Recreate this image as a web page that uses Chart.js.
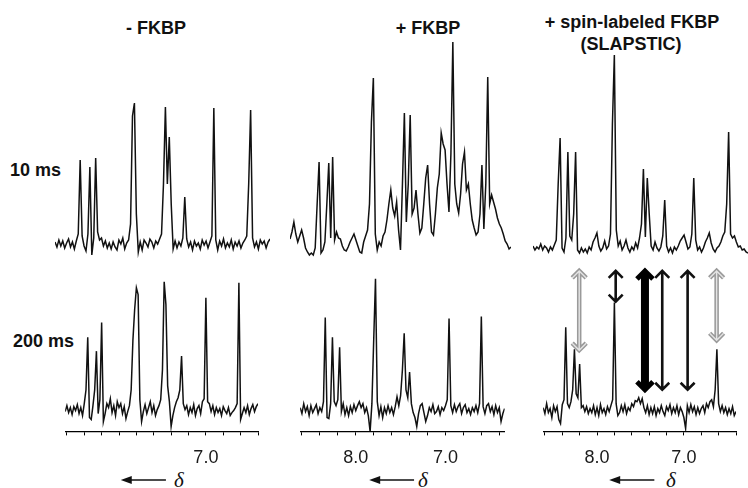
<!DOCTYPE html>
<html>
<head>
<meta charset="utf-8">
<script src="https://cdn.jsdelivr.net/npm/chart.js@4.4.1/dist/chart.umd.min.js"></script>
<style>
  body { margin: 0; background: #fff; width: 748px; height: 488px; overflow: hidden; position: relative; font-family: "Liberation Sans", Arial, sans-serif; }
  canvas { position: absolute; }
  .lbl { position: absolute; font-weight: bold; font-size: 18px; line-height: 20px; color: #111; white-space: nowrap; }
  .ctr { width: 240px; text-align: center; }
  .delta { position: absolute; font-family: "Liberation Serif", "DejaVu Serif", serif; font-style: italic; font-size: 21px; line-height: 22px; color: #111; }
</style>
</head>
<body>
<div class="lbl ctr" style="left:36px;top:18px">- FKBP</div>
<div class="lbl ctr" style="left:308px;top:18px">+ FKBP</div>
<div class="lbl ctr" style="left:512px;top:12px">+ spin-labeled FKBP</div>
<div class="lbl ctr" style="left:511px;top:34px">(SLAPSTIC)</div>
<div class="lbl" style="left:10px;top:160px">10 ms</div>
<div class="lbl" style="left:13px;top:331px">200 ms</div>
<div class="delta" style="left:174px;top:469px">δ</div>
<div class="delta" style="left:418px;top:469px">δ</div>
<div class="delta" style="left:666px;top:469px">δ</div>

<canvas id="t1" width="215" height="232" style="left:55px;top:30px"></canvas>
<canvas id="t2" width="221" height="232" style="left:290px;top:30px"></canvas>
<canvas id="t3" width="215" height="232" style="left:533px;top:30px"></canvas>
<canvas id="b1" width="215" height="226" style="left:55px;top:262px"></canvas>
<canvas id="b2" width="221" height="226" style="left:290px;top:262px"></canvas>
<canvas id="b3" width="215" height="226" style="left:533px;top:262px"></canvas>

<script>
// chemical shift sampling, 8.62 ppm down to 6.34 ppm in 0.02 steps
const ppm = Array.from({ length: 115 }, (_, i) => +(8.62 - 0.02 * i).toFixed(2));

// axis ticks (ppm) and which of them carry a label
const tickPpm = [8.6, 8.4, 8.2, 8.0, 7.8, 7.6, 7.4, 7.2, 7.0, 6.8, 6.6, 6.4];
const labeledFree = [7.0];
const labeledOther = [8.0, 7.0];

// intensities (arbitrary units)
const free10 = [2,-3,4,-2,3,-4,1,5,-3,2,-5,3,10,84,8,-2,-7,10,77,-11,6,86,12,4,6,-2,3,-4,1,-5,
  2,-3,-6,4,0,6,-5,1,4,20,128,141,30,-8,2,-6,4,1,-3,5,2,-4,3,0,5,10,60,137,60,107,
  40,-5,3,-4,2,-2,6,47,5,-3,2,-6,3,-2,1,-5,4,-1,3,-4,2,8,136,4,-6,3,-2,5,-4,1,
  -3,4,-5,2,-2,3,-4,1,4,8,60,134,6,-3,2,-5,4,0,3,-4,2,5];
const fkbp10 = [5,12,22,10,2,8,14,6,-4,-8,-11,-9,-11,-4,40,82,-9,-6,2,40,81,6,87,4,12,6,5,-2,-6,-7,
  -3,2,6,10,4,-2,-8,-9,2,8,14,40,122,166,10,-6,2,-2,8,12,24,40,54,36,28,42,14,-6,60,131,
  22,60,129,30,36,54,30,11,16,40,66,79,40,12,9,30,56,70,111,100,94,60,32,90,202,60,40,31,50,80,
  92,54,60,40,24,16,9,12,30,79,15,60,167,40,49,42,35,26,20,16,10,3,0,-5,-3];
const spin10 = [-2,-6,-3,-5,0,-6,-2,-4,-8,-3,-6,-1,4,60,106,-4,-8,6,92,8,4,30,92,-6,-9,-4,-8,-5,-9,-3,
  -6,2,6,11,-2,-7,-4,3,-5,-2,10,120,189,14,-2,3,-6,-2,4,-4,-8,-3,-6,1,-4,6,20,75,7,66,
  30,-2,-6,2,-4,-7,-3,8,44,-2,-8,-4,-9,-3,-6,-2,3,6,9,2,-5,-3,10,66,4,-6,-3,-8,-4,2,
  6,11,1,-5,-8,-4,-2,2,8,12,40,112,10,6,8,2,-3,-2,-6,-5,-8,-9];
const free200 = [-2,4,-3,2,-5,3,-1,5,-4,2,-6,6,20,73,-8,-10,4,20,59,-4,10,88,-12,-4,6,2,11,-3,4,-6,
  8,2,6,-4,3,-9,-2,4,20,70,101,123,116,10,-12,-2,5,-4,2,8,-3,4,-6,0,4,10,40,129,106,24,
  8,-17,-6,2,8,12,20,54,6,0,4,-5,2,-3,5,-6,1,4,-4,8,11,113,8,6,-2,4,-5,2,-3,1,
  -6,3,-1,-4,2,-6,-3,-1,2,6,128,-10,-4,2,-3,4,-5,1,5,-2,3,6];
const fkbp200 = [2,-4,6,-2,3,-6,4,-3,1,5,-4,2,-2,8,93,-8,-9,6,73,8,4,10,63,-2,6,-5,2,-6,3,-3,
  5,-1,4,8,2,6,-3,2,-6,-22,6,70,132,8,-6,3,-8,2,-4,4,-3,2,-5,3,13,4,14,40,77,20,
  12,38,6,-3,-8,-17,-4,4,6,-3,-12,-6,2,-2,5,-4,-2,3,-5,2,-1,4,10,92,4,-3,5,-2,3,6,
  -4,2,5,-3,1,-5,2,-2,4,-3,6,94,3,-4,4,6,-2,3,-5,4,-3,2,-12,-4,1];
const spin200 = [2,-4,6,-3,1,-8,4,-2,3,-10,-14,5,10,83,6,2,8,20,61,16,12,46,2,4,-2,3,-4,1,-3,4,
  -5,2,-6,5,-3,1,-5,3,-2,4,10,108,6,-6,-3,4,-2,5,-4,2,-1,6,3,9,8,12,6,11,2,-3,
  4,-5,2,-4,3,-6,1,-3,4,-2,-6,3,-1,5,-4,2,-3,4,-5,2,-2,-8,-19,4,-3,5,-2,3,-5,2,
  -4,1,4,-3,6,2,8,10,3,20,61,6,-2,4,-3,2,-5,1,-4,3,-6,-2];

// double-headed arrows in the spin-labeled 200 ms panel
const arrowPpm = [8.205, 7.785, 7.448, 7.249, 6.957, 6.623];
const arrowTop = [141, 141, 141, 141, 141, 141];
const arrowBottom = [59, 108, 19, 19, 19, 69];
const arrowKind = ['gray', 'black', 'thick', 'black', 'black', 'gray'];

// "<- delta" direction arrows under each axis (ppm)
const dirFrom = [7.98, 7.85, 7.86];
const dirTo = [7.46, 7.35, 7.34];

function pts(values) {
  return values.map((v, i) => ({ x: ppm[i], y: v }));
}

const arrowPlugin = {
  id: 'pairArrows',
  afterDatasetsDraw(chart) {
    if (!chart.options.plugins.pairArrows.show) return;
    const { ctx, scales: { x, y } } = chart;
    ctx.save();
    ctx.lineCap = 'butt';
    ctx.lineJoin = 'miter';
    arrowPpm.forEach((p, i) => {
      const px = x.getPixelForValue(p);
      const yt = y.getPixelForValue(arrowTop[i]);
      const yb = y.getPixelForValue(arrowBottom[i]);
      const kind = arrowKind[i];
      const hw = kind === 'thick' ? 8 : 7;
      const hh = kind === 'thick' ? 9 : 8;
      const path = () => {
        ctx.beginPath();
        ctx.moveTo(px, yt + 1);
        ctx.lineTo(px, yb - 1);
        ctx.moveTo(px - hw, yt + hh);
        ctx.lineTo(px, yt + 1);
        ctx.lineTo(px + hw, yt + hh);
        ctx.moveTo(px - hw, yb - hh);
        ctx.lineTo(px, yb - 1);
        ctx.lineTo(px + hw, yb - hh);
      };
      if (kind === 'gray') {
        ctx.strokeStyle = '#9a9a9a';
        ctx.lineWidth = 4.5;
        path(); ctx.stroke();
        ctx.strokeStyle = '#e4e4e4';
        ctx.lineWidth = 1.4;
        path(); ctx.stroke();
      } else if (kind === 'thick') {
        ctx.strokeStyle = '#000';
        ctx.lineWidth = 5;
        path(); ctx.stroke();
        ctx.lineWidth = 8;
        ctx.beginPath();
        ctx.moveTo(px, yt + 4);
        ctx.lineTo(px, yb - 4);
        ctx.stroke();
      } else {
        ctx.strokeStyle = '#111';
        ctx.lineWidth = 2.6;
        path(); ctx.stroke();
      }
    });
    ctx.restore();
  }
};

const dirPlugin = {
  id: 'dirArrow',
  afterDraw(chart) {
    const col = chart.options.plugins.dirArrow.col;
    if (col === undefined) return;
    const { ctx, scales: { x } } = chart;
    const x1 = x.getPixelForValue(dirFrom[col]);
    const x2 = x.getPixelForValue(dirTo[col]);
    const yy = 218;
    ctx.save();
    ctx.strokeStyle = '#111';
    ctx.fillStyle = '#111';
    ctx.lineWidth = 1.6;
    ctx.beginPath();
    ctx.moveTo(x1 + 8, yy);
    ctx.lineTo(x2, yy);
    ctx.stroke();
    ctx.beginPath();
    ctx.moveTo(x1, yy);
    ctx.lineTo(x1 + 11, yy - 4);
    ctx.lineTo(x1 + 11, yy + 4);
    ctx.closePath();
    ctx.fill();
    ctx.restore();
  }
};

function makeChart(id, values, xMin, bottomRow, labeled, col) {
  const xScale = {
    type: 'linear',
    reverse: true,
    min: xMin,
    max: 8.62,
    display: bottomRow,
    afterBuildTicks: axis => { axis.ticks = tickPpm.map(v => ({ value: v })); },
    border: { display: true, color: '#000', width: 1.3 },
    grid: { display: true, drawOnChartArea: false, drawTicks: true, tickLength: 4, color: '#000', lineWidth: 1 },
    ticks: {
      autoSkip: false,
      maxRotation: 0,
      padding: 12,
      color: '#1a1a1a',
      font: { family: 'Liberation Sans', size: 18 },
      callback: v => labeled.includes(+(+v).toFixed(1)) ? (+v).toFixed(1) : ''
    }
  };
  const yScale = bottomRow ? { display: false, min: -22, max: 149 } : { display: false, min: -18, max: 214 };
  return new Chart(document.getElementById(id), {
    type: 'line',
    data: {
      datasets: [{
        data: pts(values),
        borderColor: '#111',
        borderWidth: 1.5,
        pointRadius: 0,
        tension: 0,
        fill: false
      }]
    },
    options: {
      responsive: false,
      animation: false,
      events: [],
      layout: { padding: bottomRow ? { bottom: 7 } : 0 },
      scales: { x: xScale, y: yScale },
      plugins: {
        legend: { display: false },
        tooltip: { enabled: false },
        pairArrows: { show: id === 'b3' },
        dirArrow: { col: bottomRow ? col : undefined }
      }
    },
    plugins: [arrowPlugin, dirPlugin]
  });
}

makeChart('t1', free10, 6.40, false, labeledFree, 0);
makeChart('t2', fkbp10, 6.34, false, labeledOther, 1);
makeChart('t3', spin10, 6.40, false, labeledOther, 2);
makeChart('b1', free200, 6.40, true, labeledFree, 0);
makeChart('b2', fkbp200, 6.34, true, labeledOther, 1);
makeChart('b3', spin200, 6.40, true, labeledOther, 2);
</script>
</body>
</html>
